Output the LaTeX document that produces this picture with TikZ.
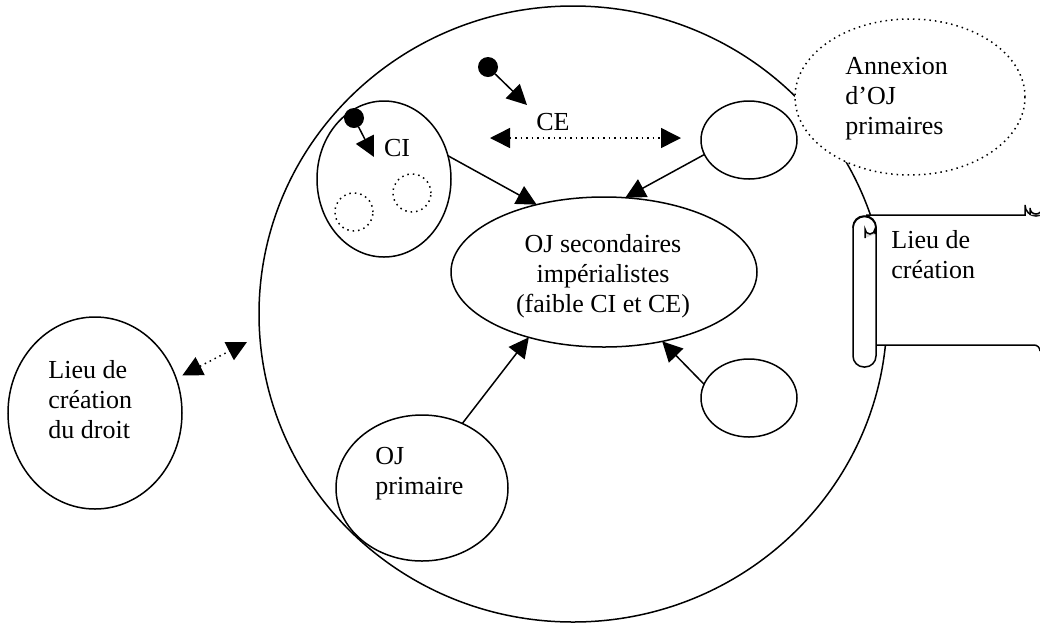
\documentclass[tikz,border=0pt]{standalone}
\usepackage{fontspec}
\setmainfont{Liberation Serif}
\usetikzlibrary{shapes.geometric,arrows.meta}

\tikzset{
  oval/.style={draw, ellipse, inner sep=0pt, outer sep=0pt, line width=0.75pt},
  blob/.style={circle, fill=black, inner sep=0pt, outer sep=0pt, minimum size=10pt},
  tip/.style={-{Triangle[length=10pt,width=10pt]}, line width=0.75pt},
  dtip/.style={{Triangle[length=10pt,width=10pt]}-{Triangle[length=10pt,width=10pt]}, dotted, line width=0.75pt},
  txt/.style={align=left, inner sep=0pt, font=\fontsize{13}{15}\selectfont},
}

\begin{document}
\begin{tikzpicture}[x=0.5pt,y=-0.5pt]
\useasboundingbox (0,0) rectangle (1040,623);

% the big circle and what sits inside it
\node[oval, minimum width=314pt, minimum height=308pt] (world) at (573,314) {};
\node[oval, minimum width=87pt, minimum height=96pt] (lieu) at (95,413) {};
\node[oval, minimum width=153pt, minimum height=75pt] (sec) at (604,272) {};
\node[oval, minimum width=67pt, minimum height=78pt] (ci) at (384,179) {};
\node[oval, dotted, minimum width=19pt, minimum height=19pt] (cia) at (354,212) {};
\node[oval, dotted, minimum width=19pt, minimum height=19pt] (cib) at (412,193) {};
\node[oval, minimum width=48pt, minimum height=39pt] (ce) at (749,140) {};
\node[oval, minimum width=48pt, minimum height=39pt] (other) at (749,398) {};
\node[oval, minimum width=86pt, minimum height=73pt] (ojp) at (422,488) {};
\node[oval, dotted, fill=white, minimum width=115pt, minimum height=78pt] (annex) at (910,97) {};

\node[blob] (dotci) at (354,118) {};
\node[blob] (dotce) at (488,67) {};
\coordinate (cihead) at (374,157);
\coordinate (cehead) at (527,105);
\coordinate (celeft) at (490,138);
\coordinate (ceright) at (681,138);
\coordinate (edge) at (247,342);

% texts
\node[txt, anchor=west] (tlieu) at (48,400) {Lieu de\\création\\du droit};
\node[txt, align=center] (tsec) at (603,276) {OJ secondaires\\impérialistes\\(faible CI et CE)};
\node[txt] (tci) at (397,148) {CI};
\node[txt] (tce) at (553,122) {CE};
\node[txt, anchor=west] (tojp) at (375,474) {OJ\\primaire};
\node[txt, anchor=west] (tannex) at (845,99) {Annexion\\d’OJ\\primaires};

% arrows
\draw[tip] (dotci) -- (cihead);
\draw[tip] (dotce) -- (cehead);
\draw[dtip] (celeft) -- (ceright);
\draw[dtip, shorten <=3.5pt] (lieu.23) -- (edge);
\draw[tip] (ci.20) -- (sec.135);
\draw[tip] (ce.198) -- (sec.74);
\draw[tip] (other.163) -- (sec.-50);
\draw[tip] (ojp.58) -- (sec.221);

% the scroll on the right
\begin{scope}[line width=0.75pt]
\fill[white] (866,215) rectangle (1040,345);
\draw (866,215) -- (1025,215) -- (1025,205) arc[start angle=180, end angle=0, radius=11];
\filldraw[fill=gray!35] (1030,215) -- (1030,208) arc[start angle=180, end angle=0, radius=6] -- (1042,215);
\draw (866,345) -- (1034,345) arc[start angle=270, end angle=360, radius=6];
\filldraw[fill=white, rounded corners=11*0.5pt] (853,216) rectangle (876,367);
\draw (853,228) arc[start angle=180, end angle=360, radius=11.5];
\filldraw[fill=gray!35] (865,238) -- (865,229) arc[start angle=180, end angle=0, radius=5] -- (875,234);
\end{scope}
\node[txt, anchor=west] (tscroll) at (891,255) {Lieu de\\création};
\end{tikzpicture}
\end{document}
